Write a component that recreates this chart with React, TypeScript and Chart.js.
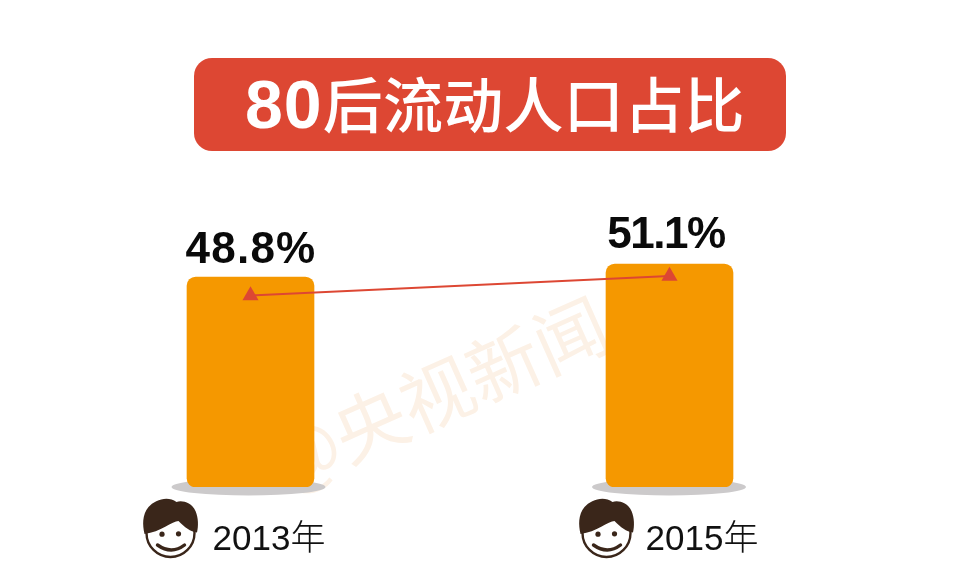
import React, { useEffect, useRef } from "react";
import { Chart, registerables } from "chart.js";

Chart.register(...registerables);

const years = ["2013年", "2015年"];
const share = [48.8, 51.1];
const shareLine = [48.8, 51.1];
const titleLead = "80";
const titleRest = "后流动人口占比";
const watermarkText = "@央视新闻";

const ORANGE = "#F59800";
const RED = "#DD4733";
const SHADOW = "#CCCACB";
const HAIR = "#3A261A";

const BAR_AXIS_MIN = 11.6;
const BAR_AXIS_MAX = 62.44;
const LINE_AXIS_MIN = 26.22;
const LINE_AXIS_MAX = 60.06;

// Per-category offsets of the decorations from the bar centre
const labelDx = [18.5, 32.5];
const faceDx = [-80, -63];
const valueDx = [0.5, -3.5];
const valueGap = [14.5, 16.5];
const valueSpacing = ["1.2px", "-1.5px"];
const shadowDx = [-2, -0.5];

function drawFace(ctx: CanvasRenderingContext2D, cx: number, cy: number) {
  ctx.save();
  ctx.strokeStyle = HAIR;
  ctx.lineWidth = 2.4;
  ctx.beginPath();
  ctx.arc(cx, cy, 24, 0, Math.PI * 2);
  ctx.stroke();
  ctx.fillStyle = HAIR;
  ctx.beginPath();
  ctx.moveTo(cx - 26, cy + 1);
  ctx.bezierCurveTo(cx - 28, cy - 8, cx - 28.5, cy - 18, cx - 22, cy - 26);
  ctx.bezierCurveTo(cx - 16, cy - 33, cx - 3, cy - 38, cx + 6, cy - 31);
  ctx.bezierCurveTo(cx + 11, cy - 33, cx + 21, cy - 31, cx + 25, cy - 22);
  ctx.bezierCurveTo(cx + 28, cy - 15, cx + 28, cy - 7, cx + 26.5, cy - 0.5);
  ctx.bezierCurveTo(cx + 20, cy - 1, cx + 14, cy - 6, cx + 8, cy - 12);
  ctx.bezierCurveTo(cx + 2, cy - 12, cx - 10, cy - 1, cx - 26, cy + 1);
  ctx.closePath();
  ctx.fill();
  ctx.beginPath();
  ctx.arc(cx - 8.5, cy + 1.2, 2.6, 0, Math.PI * 2);
  ctx.fill();
  ctx.beginPath();
  ctx.arc(cx + 8, cy + 0.8, 2.6, 0, Math.PI * 2);
  ctx.fill();
  ctx.lineWidth = 3.4;
  ctx.lineCap = "round";
  ctx.beginPath();
  ctx.moveTo(cx - 13, cy + 12);
  ctx.quadraticCurveTo(cx + 1, cy + 22, cx + 14, cy + 12);
  ctx.stroke();
  ctx.restore();
}

const decorations = {
  id: "decorations",
  beforeDatasetsDraw(chart: any) {
    const { ctx } = chart;
    const bars = chart.getDatasetMeta(0).data;
    bars.forEach((bar: any, i: number) => {
      ctx.save();
      ctx.fillStyle = SHADOW;
      ctx.beginPath();
      ctx.ellipse(bar.x + shadowDx[i], bar.base, 77, 8.5, 0, 0, Math.PI * 2);
      ctx.fill();
      ctx.restore();
    });
  },
  afterDraw(chart: any) {
    const { ctx } = chart;
    const bars = chart.getDatasetMeta(0).data;
    const values = chart.data.datasets[0].data;
    bars.forEach((bar: any, i: number) => {
      ctx.save();
      ctx.fillStyle = "#0a0a0a";
      ctx.textAlign = "center";
      ctx.textBaseline = "alphabetic";
      ctx.font = "bold 44px 'Liberation Sans', Arial, sans-serif";
      ctx.letterSpacing = valueSpacing[i];
      ctx.fillText(`${values[i].toFixed(1)}%`, bar.x + valueDx[i], bar.y - valueGap[i]);
      ctx.letterSpacing = "0px";
      ctx.fillStyle = "#111";
      ctx.font = "300 35px 'Liberation Sans', 'Noto Sans CJK SC', sans-serif";
      ctx.fillText(chart.data.labels[i], bar.x + labelDx[i], 550);
      ctx.restore();
      drawFace(ctx, bar.x + faceDx[i], 533);
    });
  },
};

export default function App() {
  const ref = useRef<HTMLCanvasElement | null>(null);
  useEffect(() => {
    const chart = new Chart(ref.current as HTMLCanvasElement, {
      type: "bar",
      data: {
        labels: years,
        datasets: [
          {
            type: "bar",
            data: share,
            base: BAR_AXIS_MIN,
            backgroundColor: ORANGE,
            borderRadius: 9,
            borderSkipped: false,
            barThickness: 127,
            yAxisID: "y",
            order: 2,
          },
          {
            type: "line",
            data: shareLine,
            borderColor: RED,
            borderWidth: 2,
            backgroundColor: RED,
            pointStyle: "triangle",
            pointRadius: 9.3,
            pointBackgroundColor: RED,
            pointBorderColor: RED,
            pointBorderWidth: 0,
            tension: 0,
            yAxisID: "y2",
            order: 1,
          },
        ],
      } as any,
      options: {
        animation: false,
        responsive: false,
        layout: { padding: { left: 41, right: 81, top: 200, bottom: 101 } },
        plugins: { legend: { display: false }, tooltip: { enabled: false } },
        scales: {
          x: { display: false, grid: { display: false } },
          y: { display: false, min: BAR_AXIS_MIN, max: BAR_AXIS_MAX },
          y2: { display: false, min: LINE_AXIS_MIN, max: LINE_AXIS_MAX },
        },
      },
      plugins: [decorations],
    } as any);
    return () => chart.destroy();
  }, []);

  return (
    <div style={{ position: "absolute", left: 0, top: 0, width: 960, height: 588, background: "#fff", overflow: "hidden" }}>
      <div
        style={{
          position: "absolute",
          left: 272,
          top: 418,
          fontFamily: "'Noto Sans CJK SC', sans-serif",
          fontSize: 73,
          fontWeight: 400,
          lineHeight: "90px",
          color: "#FCF1E6",
          whiteSpace: "nowrap",
          transform: "rotate(-24deg)",
          transformOrigin: "0 45px",
        }}
      >
        {watermarkText}
      </div>
      <canvas ref={ref} width={960} height={588} style={{ position: "absolute", left: 0, top: 0, width: 960, height: 588 }} />
      <div
        style={{
          position: "absolute",
          left: 194,
          top: 58,
          width: 592,
          height: 93,
          borderRadius: 18,
          background: RED,
          color: "#fff",
          fontWeight: 700,
          lineHeight: "87px",
          whiteSpace: "nowrap",
          paddingLeft: 51,
          boxSizing: "border-box",
        }}
      >
        <span style={{ fontFamily: "'Liberation Sans', sans-serif", fontSize: 68, letterSpacing: 1 }}>{titleLead}</span>
        <span style={{ fontFamily: "'Noto Sans CJK SC', sans-serif", fontWeight: 500, fontSize: 60, letterSpacing: 0.3 }}>{titleRest}</span>
      </div>
    </div>
  );
}
